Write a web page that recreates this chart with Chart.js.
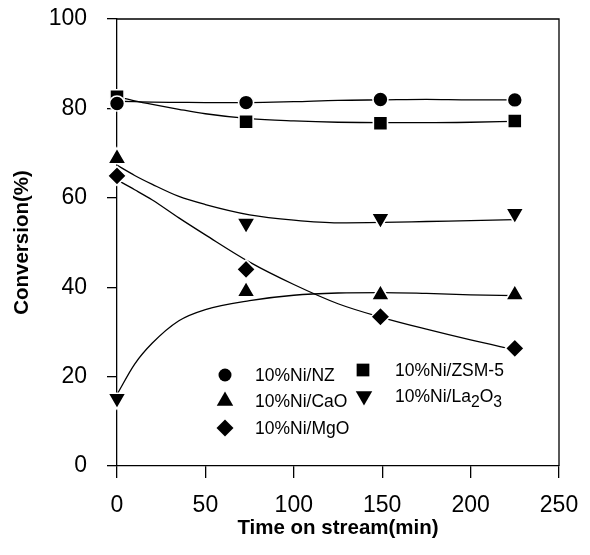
<!DOCTYPE html>
<html>
<head>
<meta charset="utf-8">
<script src="https://cdn.jsdelivr.net/npm/chart.js@4/dist/chart.umd.min.js"></script>
<style>
  html, body { margin: 0; padding: 0; background: #fff; }
  #wrap { width: 590px; height: 555px; position: relative; }
</style>
</head>
<body>
<div id="wrap"><canvas id="c" width="590" height="555"></canvas></div>
<script>
// ---- data ----
const seriesNames = ['10%Ni/NZ', '10%Ni/ZSM-5', '10%Ni/CaO', '10%Ni/La2O3', '10%Ni/MgO'];
const timeMin = [0, 73, 149, 225];
const nzValues    = [81.1, 81.3, 82.0, 81.9];
const zsm5Values  = [82.6, 77.0, 76.7, 77.2];
const caoValues   = [68.8, 39.0, 38.3, 38.3];
const la2o3Values = [15.1, 54.3, 55.4, 56.5];
const mgoValues   = [64.9, 44.0, 33.4, 26.3];

const curveTime   = [0, 10, 20, 35, 50, 75, 100, 125, 150, 175, 200, 225];
const nzCurve     = [81.6, 81.5, 81.4, 81.35, 81.3, 81.3, 81.5, 81.8, 81.9, 82.0, 81.9, 81.9];
const zsm5Curve   = [82.6, 81.7, 80.9, 79.8, 78.8, 77.7, 77.2, 76.9, 76.8, 76.8, 76.9, 77.1];
const caoCurve    = [16.0, 22.8, 27.5, 32.5, 35.0, 37.0, 38.2, 38.7, 38.8, 38.6, 38.3, 38.1];
const la2o3Curve  = [67.3, 65.0, 63.0, 60.3, 58.5, 56.2, 55.0, 54.4, 54.5, 54.7, 54.9, 55.1];
const mgoCurve    = [64.0, 61.8, 59.5, 55.5, 51.7, 45.6, 40.6, 36.3, 33.2, 30.6, 28.2, 26.0];

const xTicks = [0, 50, 100, 150, 200, 250];
const yTicks = [0, 20, 40, 60, 80, 100];

// ---- styling ----
const FONT = '"Liberation Sans", Arial, Helvetica, sans-serif';
const markerStyles = [
  { pointStyle: 'circle',   radius: 7.5,  rotation: 0 },
  { pointStyle: 'rect',     radius: 10,   rotation: 0 },
  { pointStyle: 'triangle', radius: 10.5, rotation: 0 },
  { pointStyle: 'triangle', radius: 10.5, rotation: 180 },
  { pointStyle: 'rectRot',  radius: 9.5,  rotation: 0 }
];
const markerValues = [nzValues, zsm5Values, caoValues, la2o3Values, mgoValues];
const curveValues = [nzCurve, zsm5Curve, caoCurve, la2o3Curve, mgoCurve];

const datasets = [];
markerValues.forEach((vals, i) => {
  datasets.push({
    label: seriesNames[i],
    data: timeMin.map((t, k) => ({ x: t, y: vals[k] })),
    showLine: false,
    pointStyle: markerStyles[i].pointStyle,
    pointRadius: markerStyles[i].radius,
    pointRotation: markerStyles[i].rotation,
    backgroundColor: '#000',
    borderColor: '#fff',
    pointBorderWidth: 1.6,
    order: 0,
    clip: false
  });
});
curveValues.forEach((vals, i) => {
  datasets.push({
    label: seriesNames[i] + ' fit',
    data: curveTime.map((t, k) => ({ x: t, y: vals[k] })),
    showLine: true,
    pointRadius: 0,
    borderColor: '#000',
    borderWidth: 1.3,
    cubicInterpolationMode: 'monotone',
    order: 1,
    clip: false
  });
});

// frame (top and right edges)
const framePlugin = {
  id: 'frame',
  beforeDatasetsDraw(chart) {
    const { ctx, chartArea: a } = chart;
    ctx.save();
    ctx.strokeStyle = '#000';
    ctx.lineWidth = 1.3;
    ctx.beginPath();
    ctx.moveTo(a.left, a.top);
    ctx.lineTo(a.right, a.top);
    ctx.lineTo(a.right, a.bottom);
    ctx.stroke();
    ctx.restore();
  }
};

// in-plot legend laid out as in the figure
const legendLayout = [
  { i: 0, mx: 225, my: 375, tx: 255 },
  { i: 1, mx: 363, my: 370, tx: 395 },
  { i: 2, mx: 225, my: 401, tx: 255 },
  { i: 3, mx: 364, my: 396, tx: 395 },
  { i: 4, mx: 225, my: 428, tx: 255 }
];
function drawRich(ctx, text, x, y, size) {
  // digits following a letter are drawn as subscripts
  const segs = text.split(/(?<=[A-Za-z])(?=\d)|(?<=\d)(?=[A-Za-z])/);
  let cx = x;
  segs.forEach((s, idx) => {
    const isSub = /^\d+$/.test(s) && idx > 0 && /[A-Za-z]$/.test(segs[idx - 1]);
    ctx.font = (isSub ? size * 0.9 : size) + 'px ' + FONT;
    ctx.fillText(s, cx, y + (isSub ? size * 0.3 : 0));
    cx += ctx.measureText(s).width;
  });
}
const legendPlugin = {
  id: 'figLegend',
  afterDatasetsDraw(chart) {
    const { ctx } = chart;
    ctx.save();
    ctx.fillStyle = '#000';
    ctx.textBaseline = 'middle';
    ctx.textAlign = 'left';
    legendLayout.forEach(L => {
      const m = markerStyles[L.i];
      ctx.fillStyle = '#000';
      Chart.helpers.drawPoint(ctx, { pointStyle: m.pointStyle, radius: m.radius - 1, rotation: m.rotation, borderWidth: 0 }, L.mx, L.my);
      drawRich(ctx, seriesNames[L.i], L.tx, L.my + 1, 17.5);
    });
    ctx.restore();
  }
};

new Chart(document.getElementById('c'), {
  type: 'scatter',
  data: { datasets },
  options: {
    responsive: false,
    animation: false,
    events: [],
    layout: { padding: { left: 0, right: 31, top: 19, bottom: 0 } },
    plugins: { legend: { display: false }, tooltip: { enabled: false } },
    scales: {
      x: {
        type: 'linear', min: 0, max: 250,
        afterBuildTicks(s) { s.ticks = xTicks.map(v => ({ value: v })); },
        ticks: { color: '#000', font: { family: FONT, size: 23 }, padding: 14 },
        grid: { display: true, drawOnChartArea: false, tickLength: 12, color: '#000', lineWidth: 1.3 },
        border: { color: '#000', width: 1.3 },
        title: { display: true, text: 'Time on stream(min)', color: '#000', font: { family: FONT, size: 20.5, weight: 'bold' }, padding: { top: 0, bottom: 14 } },
        afterFit(s) { s.height = 89; s.paddingLeft = 0; s.paddingRight = 0; }
      },
      y: {
        type: 'linear', min: 0, max: 100,
        afterBuildTicks(s) { s.ticks = yTicks.map(v => ({ value: v })); },
        ticks: { color: '#000', font: { family: FONT, size: 23 }, padding: 20 },
        grid: { display: true, drawOnChartArea: false, tickLength: 10, color: '#000', lineWidth: 1.3 },
        border: { color: '#000', width: 1.3 },
        title: { display: true, text: 'Conversion(%)', color: '#000', font: { family: FONT, size: 20.5, weight: 'bold' }, padding: { top: 10, bottom: 0 } },
        afterFit(s) { s.width = 117; s.paddingTop = 0; s.paddingBottom = 0; }
      }
    }
  },
  plugins: [framePlugin, legendPlugin]
});
</script>
</body>
</html>
